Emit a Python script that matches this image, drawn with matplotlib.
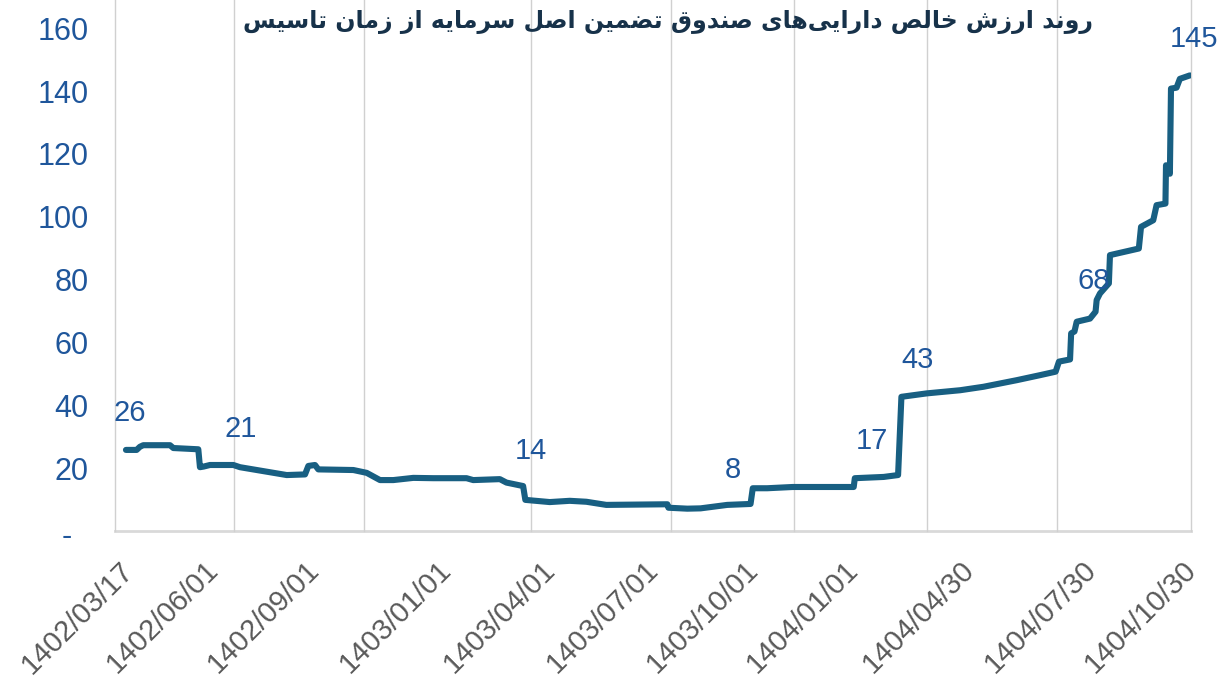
import matplotlib
matplotlib.use("Agg")
import matplotlib.pyplot as plt
from matplotlib.transforms import ScaledTranslation

# ---------------- data ----------------
title_fa = "روند ارزش خالص دارایی‌های صندوق تضمین اصل سرمایه از زمان تاسیس"

# x = days since 1402/03/17
days = [0, 9.6, 12.6, 15.6, 39.7, 42.7, 65.2, 66.7, 70, 75.7, 96.8, 102.8, 144.9,
        161.4, 164.4, 170.4, 173.4, 205, 217, 229, 241, 259, 277, 307, 313, 337,
        343, 358, 360, 382, 400, 415, 433, 488, 489, 506, 518, 542, 563, 565, 578,
        601, 656, 657, 683, 696, 699, 722, 752, 773, 803, 824, 838, 841, 851, 852,
        855, 857, 869, 874, 875, 878, 886, 887, 913, 915, 926, 929, 937, 937.5,
        941, 942, 947, 950, 959]
nav = [25.8, 25.8, 26.8, 27.3, 27.3, 26.4, 26.0, 20.3, 20.5, 21.0, 21.0, 20.3, 17.8,
       18.0, 20.7, 21.0, 19.6, 19.4, 18.5, 16.2, 16.2, 16.9, 16.8, 16.8, 16.2, 16.5,
       15.4, 14.3, 9.9, 9.2, 9.6, 9.3, 8.3, 8.5, 7.4, 7.1, 7.2, 8.3, 8.6, 13.6, 13.6,
       14.0, 14.0, 16.8, 17.2, 17.8, 42.7, 43.8, 44.8, 45.9, 48.0, 49.6, 50.7, 53.9,
       54.6, 62.9, 63.5, 66.6, 67.6, 69.8, 73.5, 75.6, 78.8, 87.8, 89.9, 96.8, 98.9,
       103.7, 104.2, 116.4, 113.7, 140.8, 141.1, 143.9, 145.0]

label_days = [0, 100, 361, 543, 669, 710, 869, 959]
label_vals = [26, 21, 14, 8, 17, 43, 68, 145]

xtick_days = [0, 77, 168, 287, 380, 473, 563, 653, 758, 868, 958]
xtick_labels = ["1402/03/17", "1402/06/01", "1402/09/01", "1403/01/01", "1403/04/01",
                "1403/07/01", "1403/10/01", "1404/01/01", "1404/04/30", "1404/07/30",
                "1404/10/30"]
grid_days = [-10, 97, 215, 365, 491, 602, 722, 839, 960]

yticks = [0, 20, 40, 60, 80, 100, 120, 140, 160]
ytick_labels = ["-", "20", "40", "60", "80", "100", "120", "140", "160"]

# ---------------- simple Persian shaping ----------------
FORMS = {
    'ا': ('\uFE8D', '\uFE8E', None, None),
    'د': ('\uFEA9', '\uFEAA', None, None),
    'ر': ('\uFEAD', '\uFEAE', None, None),
    'ز': ('\uFEAF', '\uFEB0', None, None),
    'و': ('\uFEED', '\uFEEE', None, None),
    'ن': ('\uFEE5', '\uFEE6', '\uFEE7', '\uFEE8'),
    'ش': ('\uFEB5', '\uFEB6', '\uFEB7', '\uFEB8'),
    'خ': ('\uFEA5', '\uFEA6', '\uFEA7', '\uFEA8'),
    'ل': ('\uFEDD', '\uFEDE', '\uFEDF', '\uFEE0'),
    'ص': ('\uFEB9', '\uFEBA', '\uFEBB', '\uFEBC'),
    'ی': ('\uFEEF', '\uFEF0', '\uFEF3', '\uFEF4'),
    'ه': ('\uFEE9', '\uFEEA', '\uFEEB', '\uFEEC'),
    'ق': ('\uFED5', '\uFED6', '\uFED7', '\uFED8'),
    'ت': ('\uFE95', '\uFE96', '\uFE97', '\uFE98'),
    'ض': ('\uFEBD', '\uFEBE', '\uFEBF', '\uFEC0'),
    'م': ('\uFEE1', '\uFEE2', '\uFEE3', '\uFEE4'),
    'س': ('\uFEB1', '\uFEB2', '\uFEB3', '\uFEB4'),
}


def shape_fa(s):
    out = []
    n = len(s)
    for i, ch in enumerate(s):
        if ch == '\u200c':
            continue
        if ch not in FORMS:
            out.append(ch)
            continue
        iso, fin, ini, med = FORMS[ch]
        prev = s[i - 1] if i > 0 else None
        nxt = s[i + 1] if i < n - 1 else None
        pj = prev in FORMS and FORMS[prev][2] is not None
        nj = nxt in FORMS and ini is not None
        if pj and nj:
            out.append(med)
        elif pj:
            out.append(fin)
        elif nj:
            out.append(ini)
        else:
            out.append(iso)
    return "".join(out)[::-1]


# ---------------- plot ----------------
plt.rcParams['font.family'] = ['Liberation Sans', 'DejaVu Sans']

BLUE = "#1F569B"
LINE = "#185F82"
GRID = "#D0D0D0"

fig = plt.figure(figsize=(12.22, 6.81), dpi=100)
ax = fig.add_axes([0.094, 0.2203, 0.8806, 0.7797])

ax.plot(days, nav, color=LINE, lw=4.4, solid_joinstyle='round', solid_capstyle='round',
        zorder=3)

for d in grid_days:
    ax.axvline(d, color=GRID, lw=1.0, zorder=1, clip_on=False)

ax.set_xlim(-10, 960)
ax.set_ylim(0, 169)

for sp in ['left', 'right', 'top']:
    ax.spines[sp].set_visible(False)
ax.spines['bottom'].set_color("#D9D9D9")
ax.spines['bottom'].set_linewidth(2.0)
ax.spines['bottom'].set_zorder(0)

ax.set_yticks(yticks)
ax.set_yticklabels(ytick_labels)
ax.tick_params(axis='y', length=0, pad=19, labelsize=22, labelcolor=BLUE)
lab0 = ax.get_yticklabels()[0]
lab0.set_transform(lab0.get_transform() + ScaledTranslation(-12 / 72, -2 / 72, fig.dpi_scale_trans))

ax.set_xticks(xtick_days)
ax.set_xticklabels(xtick_labels, rotation=45, ha='right', va='top', rotation_mode='anchor')
ax.tick_params(axis='x', length=0, pad=18, labelsize=21, labelcolor="#595959")
for lab in ax.get_xticklabels():
    lab.set_transform(lab.get_transform() + ScaledTranslation(-5 / 72, 0, fig.dpi_scale_trans))

for d, v in zip(label_days, label_vals):
    ax.annotate(str(v), xy=(d, v), xytext=(3, 26), textcoords='offset points',
                ha='center', va='center', fontsize=21, color=BLUE, zorder=4)

fig.text(0.547, 0.967, shape_fa(title_fa), ha='center', va='center', fontsize=17,
         fontweight='bold', color="#17324A", family=['DejaVu Sans'])

fig.savefig("out.png", dpi=100)
